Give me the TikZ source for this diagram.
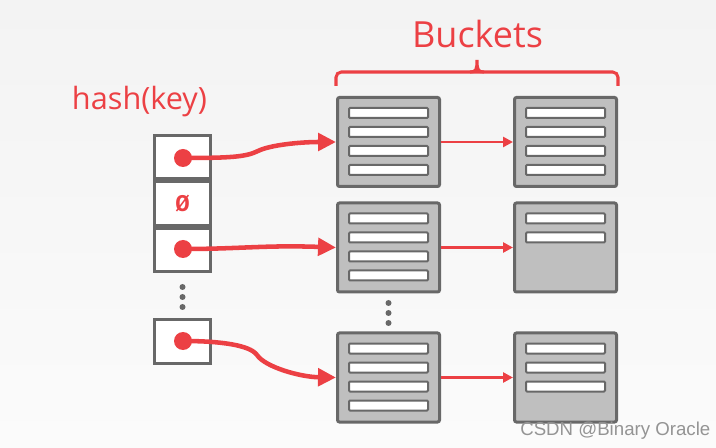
\documentclass[tikz,border=0pt]{standalone}
\usepackage{fontspec}
\setmainfont{Open Sans}
\newfontfamily\wmfont{Liberation Sans}
\newfontfamily\nulfont{Liberation Mono}
\usetikzlibrary{arrows.meta,calc}
\definecolor{hred}{RGB}{236,64,68}
\definecolor{bord}{RGB}{104,104,104}
\definecolor{bfill}{RGB}{191,191,191}
\definecolor{bgtop}{RGB}{243,243,243}
\definecolor{bgbot}{RGB}{251,251,251}
\begin{document}
\begin{tikzpicture}[x=0.75pt,y=-0.75pt,
  bucket/.style={draw=bord, fill=bfill, line width=2.25pt, rounded corners=1.5pt,
    minimum width=76.5pt, minimum height=66.75pt, inner sep=0pt},
  slot/.style={draw=bord, fill=white, line width=1.5pt, rounded corners=0.8pt,
    minimum width=59.25pt, minimum height=7.5pt, inner sep=0pt},
  cell/.style={draw=bord, fill=white, line width=2.25pt,
    minimum width=42pt, minimum height=32.9pt, inner sep=0pt},
  rdot/.style={circle, fill=hred, minimum size=13.5pt, inner sep=0pt},
  gdot/.style={circle, fill=bord, minimum size=4.5pt, inner sep=0pt},
  bigarrow/.style={draw=hred, line width=3.4pt, -{Triangle[length=13.5pt,width=13pt]}, fill=none},
  smallarrow/.style={draw=hred, line width=1.9pt, -{Triangle[length=7.5pt,width=7.5pt]}},
  redtext/.style={text=hred, inner sep=0pt}]
\useasboundingbox (0,0) rectangle (716,448);
\shade[top color=bgtop, bottom color=bgbot] (0,0) rectangle (716,448);

% titles
\node[redtext, font=\fontsize{27}{30}\selectfont, anchor=base] (title) at (477.5,48) {Buckets};
\node[redtext, font=\fontsize{23}{26}\selectfont, anchor=base] (hk) at (139.5,110) {hash(key)};

% brace
\draw[hred, line width=2.3pt, rounded corners=4pt] (336,86) -- (336,72) -- (618,72) -- (618,86);
\draw[hred, line width=2.3pt] (470,72) .. controls (476,72) and (477,70) .. (477,60)
  .. controls (477,70) and (478,72) .. (484,72);

% hash table
\node[cell] (h1) at (182.5,157) {};
\node[cell] (h3) at (182.5,250) {};
\node[cell] (h2) at (182.5,203.5) {};
\node[cell, minimum height=33.3pt] (h4) at (182.5,341.5) {};
\node[redtext, font=\nulfont\bfseries\fontsize{18}{20}\selectfont] (nul) at (182.5,203.5) {Ø};

\node[gdot] (v1) at (182.5,287) {};
\node[gdot] (v2) at (182.5,297) {};
\node[gdot] (v3) at (182.5,307) {};

% buckets
\node[bucket] (b1) at (388.5,142) {};
\node[bucket] (b2) at (388.5,247.5) {};
\node[bucket] (b3) at (388.5,377.5) {};
\node[bucket] (c1) at (565.5,142) {};
\node[bucket] (c2) at (565.5,247.5) {};
\node[bucket] (c3) at (565.5,377.5) {};

\foreach \b/\n in {b1/4,b2/4,b3/4,c1/4,c2/2,c3/3}{
  \foreach \i in {1,...,\n}{
    \node[slot] (\b s\i) at ($(\b.north)+(0,{17+19*(\i-1)})$) {};
  }
}

\node[gdot] (w1) at (388.5,303) {};
\node[gdot] (w2) at (388.5,313) {};
\node[gdot] (w3) at (388.5,323) {};

% pointers
\node[rdot] (d1) at (183,158) {};
\node[rdot] (d2) at (183,249) {};
\node[rdot] (d3) at (183,341) {};

\draw[bigarrow] (d1.center) .. controls (230,158) and (246,157) .. (258,151)
  .. controls (270,145) and (300,142) .. (b1.west);
\draw[bigarrow] (d2.center) .. controls (240,249) and (265,245) .. (b2.west);
\draw[bigarrow] (d3.center) .. controls (220,341) and (250,345) .. (257,355)
  .. controls (265,367) and (300,377) .. (b3.west);

\draw[smallarrow] (b1.east) -- (c1.west);
\draw[smallarrow] (b2.east) -- (c2.west);
\draw[smallarrow] (b3.east) -- (c3.west);

% watermark
\node[text=black!42, font=\wmfont\fontsize{14}{16}\selectfont, anchor=base west, inner sep=0pt] (wm) at (520,435) {CSDN @Binary Oracle};
\end{tikzpicture}
\end{document}
